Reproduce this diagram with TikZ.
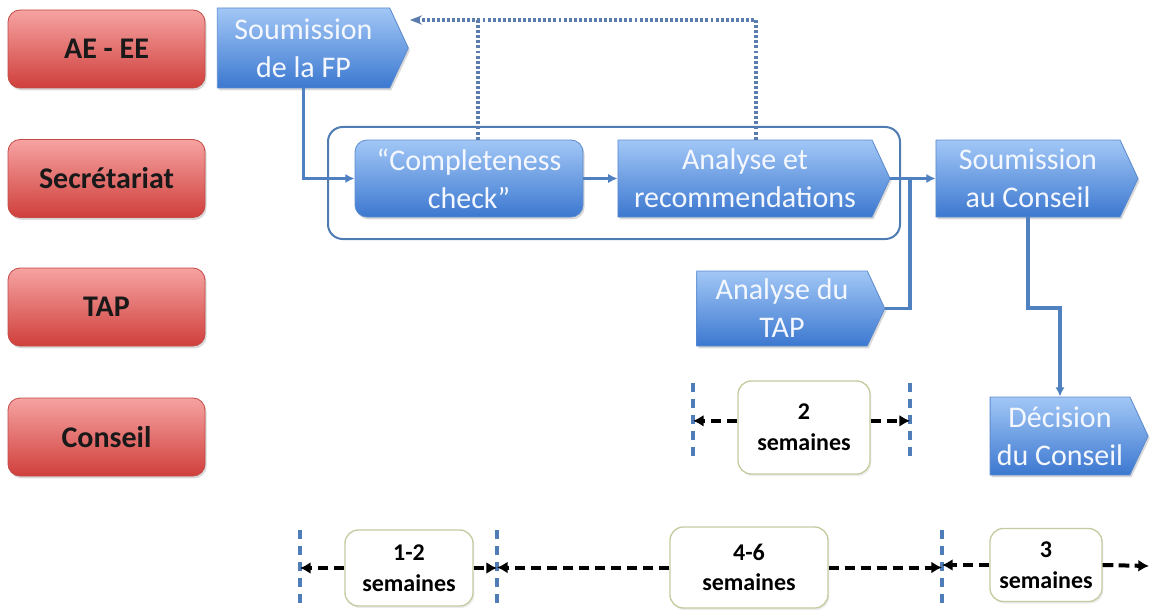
\documentclass[tikz,border=0pt]{standalone}
\usepackage{fontspec}
\setmainfont{Carlito}
\usetikzlibrary{shapes.symbols,shadows,arrows.meta}
\definecolor{redtop}{HTML}{F6A3A2}
\definecolor{redbot}{HTML}{CF3F3B}
\definecolor{redborder}{HTML}{C24A47}
\definecolor{bluetop}{HTML}{A2C7F6}
\definecolor{bluebot}{HTML}{3C78D0}
\definecolor{blueborder}{HTML}{5B8BCF}
\definecolor{bluetext}{HTML}{F4F8FE}
\definecolor{flowc}{HTML}{4F80BF}
\definecolor{contc}{HTML}{4F7CB3}
\definecolor{fbc}{HTML}{5A7DAE}
\definecolor{tickc}{HTML}{4F7DB8}
\definecolor{tboxc}{HTML}{C3CCA0}
\begin{document}
\begin{tikzpicture}[x=0.75pt,y=-0.75pt,
  shad/.style={drop shadow={opacity=0.3,shadow xshift=1.2pt,shadow yshift=-1.8pt}},
  redbox/.style={draw=redborder, line width=0.6pt, rounded corners=9pt, top color=redtop, bottom color=redbot,
    minimum width=147.75pt, minimum height=58.5pt, font=\fontsize{22.5}{26}\selectfont\bfseries, text=black!90, shad},
  bluebase/.style={draw=blueborder, line width=0.6pt, top color=bluetop, bottom color=bluebot, text=bluetext,
    font=\fontsize{22.5}{28.5}\selectfont, align=center, inner sep=1pt, shad},
  bluesig/.style={bluebase, signal, signal to=east, signal pointer angle=130},
  bluerr/.style={bluebase, rectangle, rounded corners=9pt},
  flow/.style={draw=flowc, line width=2.6pt, -{Latex[length=7pt,width=7pt]}},
  plain/.style={draw=flowc, line width=2.6pt},
  fb/.style={draw=fbc, line width=2.6pt, dash pattern=on 2.2pt off 1.6pt},
  tick/.style={draw=tickc, line width=2.6pt, dash pattern=on 7pt off 5pt},
  tl/.style={draw=black, line width=3pt, dash pattern=on 8pt off 4pt, -{Latex[length=8pt,width=9pt]}},
  tbox/.style={draw=tboxc, line width=1pt, fill=white, rounded corners=10pt, align=center,
    font=\fontsize{18}{23}\selectfont\bfseries, drop shadow={opacity=0.15,shadow xshift=1pt,shadow yshift=-1.5pt}}
]
\useasboundingbox (0,0) rectangle (1150,610);

% lanes
\node[redbox] (ae) at (106.5,49) {AE - EE};
\node[redbox] (sec) at (106.5,178.5) {Secrétariat};
\node[redbox] (tap) at (106.5,307) {TAP};
\node[redbox] (con) at (106.5,437) {Conseil};

% container
\node[draw=contc, line width=1.5pt, rounded corners=11pt, minimum width=429pt, minimum height=84pt] (box) at (614,183) {};

% blue steps
\node[bluesig, minimum width=143.25pt, minimum height=60pt] (fp) at (303.5,48) {Soumission\\de la FP};
\node[bluerr, minimum width=171pt, minimum height=57.75pt] (cc) at (469,178.5) {“Completeness\\check”};
\node[bluesig, minimum width=204pt, minimum height=57.75pt] (ar) at (745,178.5) {Analyse et\\recommendations};
\node[bluesig, minimum width=151.5pt, minimum height=57.75pt] (sc) at (1028,178.5) {Soumission\\au Conseil};
\node[bluesig, minimum width=141pt, minimum height=56.25pt] (ta) at (782,308.5) {Analyse du\\TAP};
\node[bluesig, minimum width=118.5pt, minimum height=58.5pt] (dc) at (1060,436) {Décision\\du Conseil};

% flow connectors
\draw[flow] (fp.south) |- (cc.west);
\draw[flow] (cc.east) -- (ar.west);
\draw[flow] (ar.east) -- (sc.west);
\coordinate (jn) at (910,178.5);
\draw[plain] (ta.east) -| (jn);
\coordinate (j1) at (1028,308);
\coordinate (j2) at (1060,308);
\draw[flow] (sc.south) -- (j1) -- (j2) -- (dc.north);

% feedback dotted
\coordinate (fb1) at (478,20);
\coordinate (fb2) at (756,20);
\coordinate (fbend) at (410,20);
\draw[fb] (cc.north -| fb1) -- (fb1);
\draw[fb, -{Stealth[length=9pt,width=7pt]}] (ar.north -| fb2) -- (fb2) -- (fbend);

% timeline ticks
\coordinate (t1a) at (300,530); \coordinate (t1b) at (300,607);
\coordinate (t2a) at (497,530); \coordinate (t2b) at (497,607);
\coordinate (t3a) at (942,530); \coordinate (t3b) at (942,607);
\coordinate (t4a) at (693,383); \coordinate (t4b) at (693,462);
\coordinate (t5a) at (910,383); \coordinate (t5b) at (910,462);
\coordinate (tend) at (1149,566);
\foreach \a/\b in {t1a/t1b,t2a/t2b,t3a/t3b,t4a/t4b,t5a/t5b} \draw[tick] (\a) -- (\b);

% timeline boxes
\node[tbox, minimum width=99pt, minimum height=69.75pt] (b2) at (804,427.5) {2\\semaines};
\node[tbox, minimum width=96pt, minimum height=57pt] (b12) at (409,568) {1-2\\semaines};
\node[tbox, minimum width=118.5pt, minimum height=60.75pt] (b46) at (749,567.5) {4-6\\semaines};
\node[tbox, minimum width=84pt, minimum height=54.75pt] (b3) at (1046,565) {3\\semaines};

% timeline arrows
\draw[tl] ([yshift=5pt]b2.west) -- ([yshift=5pt]b2.west -| t4a);
\draw[tl] ([yshift=5pt]b2.east) -- ([yshift=5pt]b2.east -| t5a);
\draw[tl] (b12.west) -- (b12.west -| t1a);
\draw[tl] (b12.east) -- (b12.east -| t2a);
\draw[tl] (b46.west) -- (b46.west -| t2a);
\draw[tl] (b46.east) -- (b46.east -| t3a);
\draw[tl] (b3.west) -- (b3.west -| t3a);
\draw[tl] (b3.east) -- (tend);
\end{tikzpicture}
\end{document}
